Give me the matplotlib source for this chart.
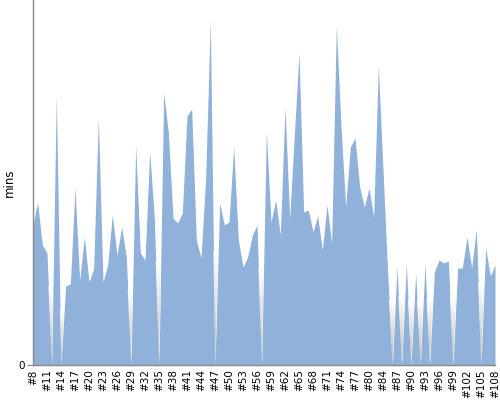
import numpy as np
import matplotlib
matplotlib.use("Agg")
import matplotlib.pyplot as plt
from matplotlib.patches import Polygon
from matplotlib.colors import LinearSegmentedColormap

numbers = list(range(8, 81)) + [81, 83] + list(range(84, 109))
categories = ["#%d" % n for n in numbers]
values = [14.2, 16.2, 12.0, 11.2, 0, 27.0, 0, 7.9, 8.1, 17.7,
          8.5, 12.8, 8.3, 9.6, 24.7, 8.3, 10.0, 15.0, 11.0, 13.8,
          10.8, 0, 21.9, 11.2, 10.5, 21.3, 14.7, 0, 27.2, 23.3,
          14.7, 14.2, 15.2, 24.9, 25.6, 12.5, 10.7, 18.7, 34.5, 0,
          16.2, 14.0, 14.3, 21.8, 12.5, 9.8, 10.8, 13.0, 14.0, 0,
          23.3, 14.3, 16.5, 13.0, 25.8, 14.7, 23.0, 31.2, 15.3, 15.5,
          13.3, 14.9, 11.5, 16.0, 12.2, 33.9, 23.8, 15.8, 21.8, 22.7,
          17.8, 15.8, 17.7, 14.8, 29.9, 19.5, 9.2, 0, 9.8, 0,
          10.1, 0, 9.2, 0, 10.2, 0, 9.3, 10.5, 10.2, 10.4,
          0, 9.7, 9.7, 12.8, 9.7, 13.6, 0, 11.7, 8.9, 10.0]
y_label = "mins"

fill_color = "#8fb1da"
axis_color = "#888888"

fig = plt.figure(figsize=(5, 4), dpi=100)
ax = fig.add_axes([0.066, 0.0875, 0.924, 0.9125])
x = np.arange(len(values))
v = np.array(values, dtype=float)
ax.fill_between(x, 0, v, color=fill_color, linewidth=0)

# grey gradient in the notches of zero-valued points
cmap = LinearSegmentedColormap.from_list("g", ["#b8b8b8", "#ffffff"])
for i in range(len(v)):
    if v[i] == 0:
        a = v[i - 1] if i > 0 else 0
        b = v[i + 1] if i < len(v) - 1 else 0
        poly = Polygon([(i - 1, a), (i, 0), (i + 1, b)], closed=True,
                       transform=ax.transData, facecolor="none", edgecolor="none")
        ax.add_patch(poly)
        h = max(min(a, b), 1e-3)
        grad = np.linspace(0, 1, 100).reshape(-1, 1)
        im = ax.imshow(grad, cmap=cmap, aspect="auto", origin="lower",
                       extent=(i - 1, i + 1, 0, h * 0.7), interpolation="bilinear",
                       zorder=3)
        im.set_clip_path(poly)

ax.set_xlim(0, len(values) - 1)
ax.set_ylim(0, 36.5)
ax.set_xticks(x[::3])
ax.set_xticklabels(categories[::3], rotation=90, fontsize=7.5)
ax.set_yticks([0])
ax.set_yticklabels(["0"], fontsize=7.5)
ax.tick_params(axis="x", length=0, pad=3)
ax.tick_params(axis="y", length=4, color=axis_color, pad=2)
ax.set_ylabel(y_label, fontsize=8.5)
ax.yaxis.set_label_coords(-0.036, 0.5)
for s in ["top", "right"]:
    ax.spines[s].set_visible(False)
for s in ["left", "bottom"]:
    ax.spines[s].set_color(axis_color)
    ax.spines[s].set_linewidth(1)
ax.set_facecolor("white")
fig.savefig("out.png", dpi=100)
